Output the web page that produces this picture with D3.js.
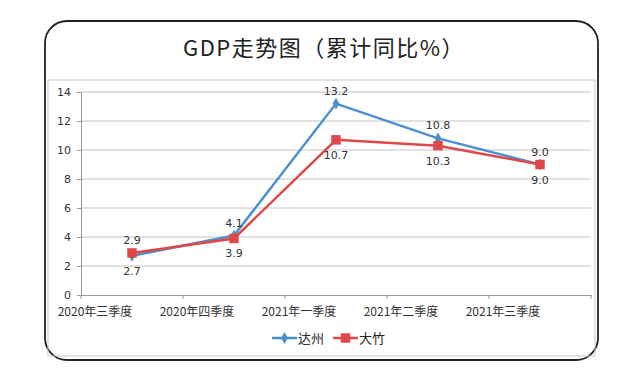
<!DOCTYPE html>
<html>
<head>
<meta charset="utf-8">
<script src="https://cdn.jsdelivr.net/npm/d3@7/dist/d3.min.js"></script>
<style>
  body { margin: 0; background: #fff; }
  text { font-family: "Noto Sans CJK SC", "DejaVu Sans", sans-serif; }
</style>
</head>
<body>
<svg id="chart"></svg>
<script>
var quarters = ["2020年三季度", "2020年四季度", "2021年一季度", "2021年二季度", "2021年三季度"];
var dazhou = [2.7, 4.1, 13.2, 10.8, 9.0];
var dazhu = [2.9, 3.9, 10.7, 10.3, 9.0];
var yTicks = [0, 2, 4, 6, 8, 10, 12, 14];
// label above (-1) or below (+1) the point
var dazhouPos = [1, -1, -1, -1, -1];
var dazhuPos = [-1, 1, 1, 1, 1];

var width = 640, height = 383;
var blue = "#4a90d0", red = "#e04848";

var svg = d3.select("#chart")
    .attr("width", width)
    .attr("height", height);

// outer rounded frame
svg.append("rect")
    .attr("x", 45).attr("y", 21)
    .attr("width", 553).attr("height", 339)
    .attr("rx", 22).attr("ry", 22)
    .attr("fill", "#fff")
    .attr("stroke", "#222")
    .attr("stroke-width", 1.8);

svg.append("text")
    .attr("x", 324).attr("y", 56)
    .attr("text-anchor", "middle")
    .attr("font-size", "22px")
    .attr("letter-spacing", "1.5px")
    .attr("fill", "#222")
    .text("GDP走势图（累计同比%）");

// inner chart frame
svg.append("rect")
    .attr("x", 48).attr("y", 80)
    .attr("width", 547).attr("height", 276)
    .attr("fill", "none")
    .attr("stroke", "#c8c8c8")
    .attr("stroke-width", 1);

var x = d3.scaleBand().domain(quarters).range([81, 591]);
var y = d3.scaleLinear().domain([0, 14]).range([295, 92]);

// grid
svg.append("g").selectAll("line")
    .data(yTicks.slice(1))
    .enter().append("line")
    .attr("x1", 81).attr("x2", 591)
    .attr("y1", function(d) { return y(d); })
    .attr("y2", function(d) { return y(d); })
    .attr("stroke", "#c4c4c4")
    .attr("stroke-width", 1);

var yAxis = svg.append("g")
    .attr("transform", "translate(81,0)")
    .call(d3.axisLeft(y).tickValues(yTicks).tickSize(4).tickPadding(6));
yAxis.select(".domain").attr("stroke", "#999");
yAxis.selectAll(".tick line").attr("stroke", "#999");
yAxis.selectAll("text").attr("font-size", "11px").attr("fill", "#333")
    .style("font-family", "'DejaVu Sans', sans-serif");

// category labels sit left of the band centre in the original
var xAxis = svg.append("g")
    .attr("transform", "translate(0,295)")
    .call(d3.axisBottom(x).tickSize(0).tickPadding(12));
xAxis.select(".domain").attr("stroke", "#999");
xAxis.selectAll("text")
    .attr("font-size", "12px")
    .attr("fill", "#333")
    .attr("dx", -37);
// tick marks at band edges
svg.append("g").selectAll("line")
    .data(quarters.concat(["end"]))
    .enter().append("line")
    .attr("x1", function(d, i) { return 81 + i * x.step(); })
    .attr("x2", function(d, i) { return 81 + i * x.step(); })
    .attr("y1", 295).attr("y2", 299)
    .attr("stroke", "#999");

var line = d3.line()
    .x(function(d, i) { return x(quarters[i]) + x.bandwidth() / 2; })
    .y(function(d) { return y(d); });

function drawSeries(values, color, shape, pos) {
    svg.append("path")
        .datum(values)
        .attr("d", line)
        .attr("fill", "none")
        .attr("stroke", color)
        .attr("stroke-width", 2.5);
    svg.append("g").selectAll("path")
        .data(values)
        .enter().append("path")
        .attr("transform", function(d, i) {
            return "translate(" + (x(quarters[i]) + x.bandwidth() / 2) + "," + y(d) + ")";
        })
        .attr("d", d3.symbol().type(shape).size(shape === d3.symbolSquare ? 90 : 40))
        .attr("fill", color);
    svg.append("g").selectAll("text")
        .data(values)
        .enter().append("text")
        .attr("x", function(d, i) { return x(quarters[i]) + x.bandwidth() / 2; })
        .attr("y", function(d, i) { return y(d) + (pos[i] < 0 ? -9 : 19); })
        .attr("text-anchor", "middle")
        .attr("font-size", "11px")
        .attr("fill", "#333")
        .style("font-family", "'DejaVu Sans', sans-serif")
        .text(function(d) { return d.toFixed(1); });
}

drawSeries(dazhou, blue, d3.symbolDiamond, dazhouPos);
drawSeries(dazhu, red, d3.symbolSquare, dazhuPos);

// legend
var legend = [
    {name: "达州", color: blue, shape: d3.symbolDiamond, size: 40, x: 272},
    {name: "大竹", color: red, shape: d3.symbolSquare, size: 90, x: 333}
];
var lg = svg.append("g").selectAll("g")
    .data(legend)
    .enter().append("g")
    .attr("transform", function(d) { return "translate(" + d.x + ",338)"; });
lg.append("line")
    .attr("x1", 0).attr("x2", 25)
    .attr("stroke", function(d) { return d.color; })
    .attr("stroke-width", 2.5);
lg.append("path")
    .attr("transform", "translate(12.5,0)")
    .attr("d", function(d) { return d3.symbol().type(d.shape).size(d.size)(); })
    .attr("fill", function(d) { return d.color; });
lg.append("text")
    .attr("x", 26).attr("y", 4.5)
    .attr("font-size", "13px")
    .attr("fill", "#222")
    .text(function(d) { return d.name; });
</script>
</body>
</html>
